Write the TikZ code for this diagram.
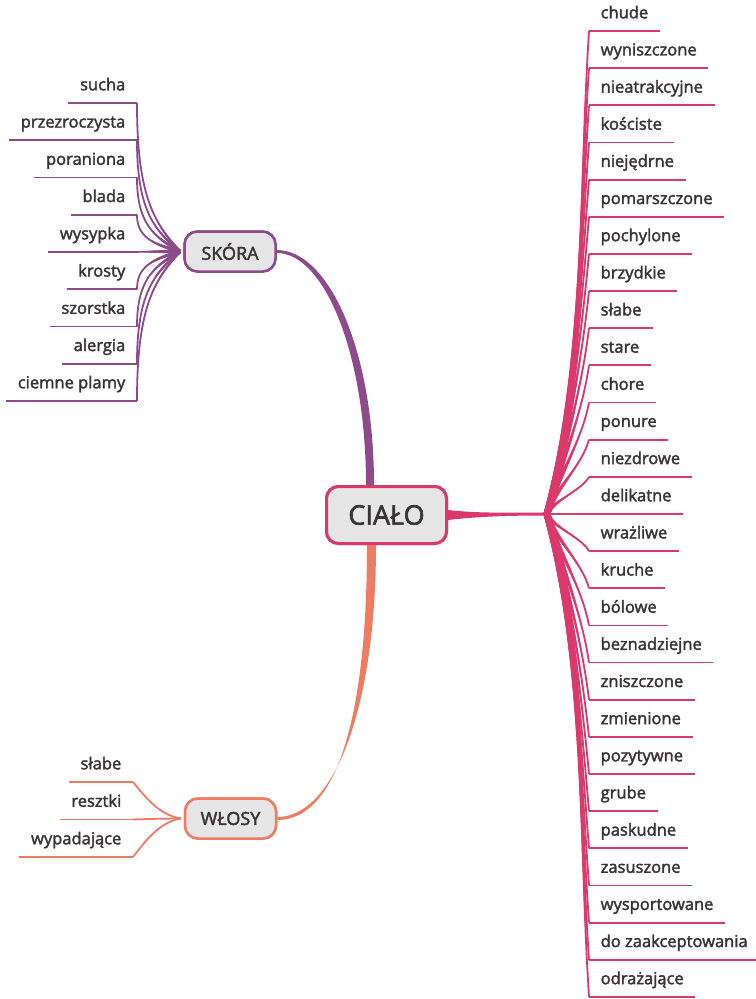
\documentclass[tikz,border=0pt]{standalone}
\usepackage{fontspec}
\setmainfont{Open Sans}[FakeBold=2.2]
\usepackage{xcolor}
\usetikzlibrary{positioning, calc}
\definecolor{mmcrimson}{HTML}{D93A6B}
\definecolor{mmpurple}{HTML}{8E4B8C}
\definecolor{mmsalmon}{HTML}{EF7B63}
\definecolor{mmfill}{HTML}{E6E6E6}
\definecolor{mmtext}{HTML}{3A3434}

\begin{document}
\begin{tikzpicture}[
    x=1bp, y=-1bp,
    central/.style={draw=mmcrimson, line width=3bp, fill=mmfill, rounded corners=12bp,
                    minimum width=120bp, minimum height=57bp, text=mmtext,
                    font=\fontsize{27bp}{31bp}\selectfont},
    topic/.style={line width=2.5bp, fill=mmfill, rounded corners=13bp,
                  minimum width=91bp, minimum height=40bp, text=mmtext,
                  font=\fontsize{18bp}{22bp}\selectfont},
    leaf/.style={inner xsep=11.5bp, inner ysep=0pt, text depth=12.5bp, text height=13bp,
                 text=mmtext, font=\fontsize{16.5bp}{19bp}\selectfont},
    twig/.style={line width=1.8bp},
]
\useasboundingbox (0,0) rectangle (756,999);

% Topic boxes
\coordinate (hub) at (547,514);
\node[central] (ciało) at (386.5,515) {CIAŁO};
\node[topic, draw=mmpurple] (skora) at (230,251.5) {SKÓRA};
\node[topic, draw=mmsalmon] (wlosy) at (230.5,818.5) {WŁOSY};
\coordinate (skhub) at ($(skora.west)+(-3,0)$);
\coordinate (wlhub) at ($(wlosy.west)+(-3,0)$);

% Tapered main branches, boxes redrawn on top
\fill[mmpurple] ($(skora.east)+(0,-1.5)$) .. controls +(52,0) and +(0,-135) .. ($(ciało.north)+(-12.5,0)$)
   -- ($(ciało.north)+(-20.5,0)$) .. controls +(0,-130) and +(48,0) .. ($(skora.east)+(0,1.5)$) -- cycle;
\fill[mmsalmon] ($(ciało.south)+(-19.5,0)$) .. controls +(0,170) and +(60,0) .. ($(wlosy.east)+(0,1.5)$)
   -- ($(wlosy.east)+(0,-1.5)$) .. controls +(56,0) and +(0,165) .. ($(ciało.south)+(-10.5,0)$) -- cycle;
\fill[mmcrimson] ($(ciało.east)+(0,-5)$) .. controls +(30,3.5) and +(-40,0) .. ($(hub)+(0,-1.5)$)
   -- ($(hub)+(0,1.5)$) .. controls +(-40,0) and +(30,-3.5) .. ($(ciało.east)+(0,5)$) -- cycle;
\node[central] at (ciało) {CIAŁO};
\node[topic, draw=mmpurple] at (skora) {SKÓRA};
\node[topic, draw=mmsalmon] at (wlosy) {WŁOSY};

% Right leaves of CIAŁO
\foreach \lbl [count=\i] in {chude, wyniszczone, nieatrakcyjne, kościste, niejędrne,
    pomarszczone, pochylone, brzydkie, słabe, stare, chore, ponure, niezdrowe, delikatne,
    wrażliwe, kruche, bólowe, beznadziejne, zniszczone, zmienione, pozytywne, grube,
    paskudne, zasuszone, wysportowane, do zaakceptowania, odrażające} {
  \pgfmathsetmacro{\ly}{31+37.15*(\i-1)}
  \pgfmathsetmacro{\dy}{\ly-514}
  \pgfmathsetmacro{\ax}{0.08*abs(\dy)}
  \pgfmathsetmacro{\bx}{-6-0.01*abs(\dy)}
  \node[leaf, anchor=south west] (c\i) at (589,\ly) {\lbl};
  \draw[twig, mmcrimson] (c\i.south west) -- (c\i.south east);
  \fill[mmcrimson] ($(hub)+(-3.5,0)$) .. controls ($(hub)+(\ax-2.5,0.3*\dy)$) and ($(c\i.south west)+(\bx-0.5,-0.35*\dy)$)
     .. (c\i.south west) .. controls ($(c\i.south west)+(\bx+0.5,-0.35*\dy)$) and ($(hub)+(\ax+2.5,0.3*\dy)$)
     .. ($(hub)+(3.5,0)$) -- cycle;
  \draw[twig, mmcrimson] (hub) .. controls +(\ax,0.3*\dy) and +(\bx,-0.35*\dy) .. (c\i.south west);
}

% Leaves of SKÓRA
\foreach \lbl [count=\i] in {sucha, przezroczysta, poraniona, blada, wysypka, krosty,
    szorstka, alergia, ciemne plamy} {
  \pgfmathsetmacro{\ly}{103+37.25*(\i-1)}
  \pgfmathsetmacro{\dy}{\ly-251.5}
  \node[leaf, anchor=south east] (s\i) at (137,\ly) {\lbl};
  \draw[twig, mmpurple] (s\i.south west) -- (s\i.south east);
  \fill[mmpurple] ($(skhub)+(0,-2)$) .. controls ($(skhub)+(-28,0.2*\dy-1.5)$) and ($(s\i.south east)+(-0.5,-0.6*\dy)$)
     .. (s\i.south east) .. controls ($(s\i.south east)+(0.5,-0.6*\dy)$) and ($(skhub)+(-28,0.2*\dy+1.5)$)
     .. ($(skhub)+(0,2)$) -- cycle;
  \draw[twig, mmpurple] (skhub) .. controls +(-28,0.2*\dy) and +(0,-0.6*\dy) .. (s\i.south east);
}

% Leaves of WŁOSY
\foreach \lbl [count=\i] in {słabe, resztki, wypadające} {
  \pgfmathsetmacro{\ly}{782+37.5*(\i-1)}
  \pgfmathsetmacro{\dy}{\ly-818.5}
  \node[leaf, anchor=south east] (w\i) at (133,\ly) {\lbl};
  \draw[twig, mmsalmon] (w\i.south west) -- (w\i.south east);
  \draw[twig, mmsalmon] (wlhub) .. controls +(-22,0.1*\dy) and +(12,-0.4*\dy) .. (w\i.south east);
}

\end{tikzpicture}
\end{document}
